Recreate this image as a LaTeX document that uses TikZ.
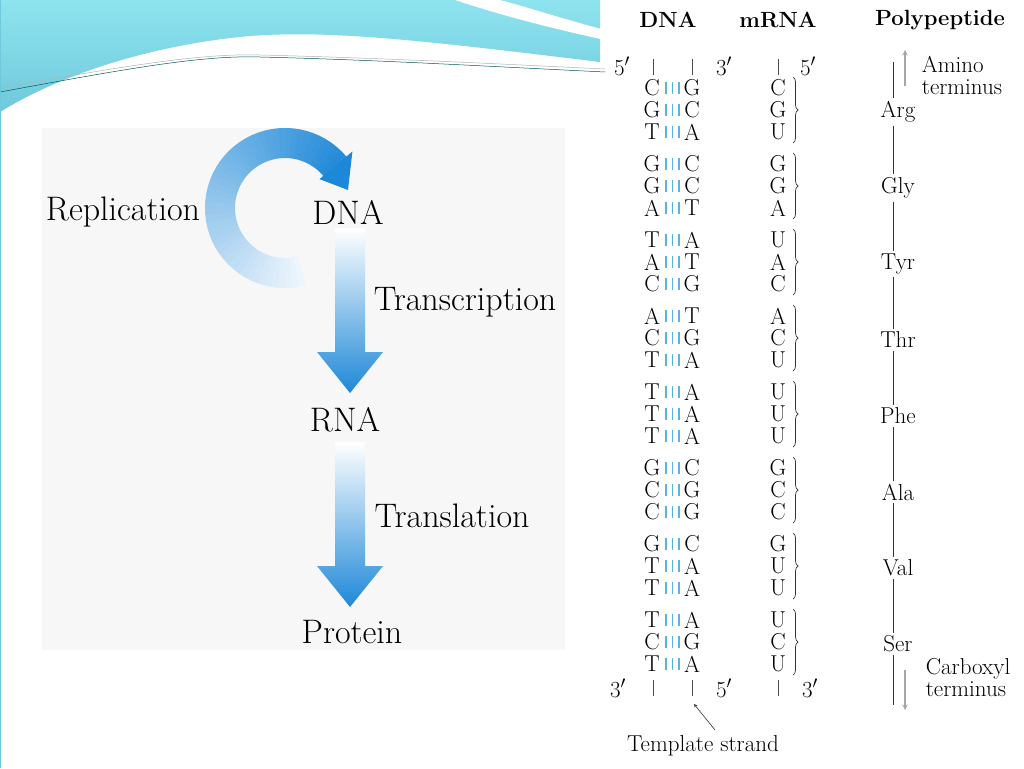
\documentclass[tikz,border=0pt]{standalone}
\usepackage{fontspec}
\setmainfont{Latin Modern Roman}
\usetikzlibrary{decorations.pathreplacing}
\definecolor{arrowblue}{HTML}{1E88D8}
\definecolor{bandcyan}{HTML}{8EE3EE}
\definecolor{bandcyan2}{HTML}{6FC9DC}
\definecolor{pairblue}{HTML}{5AB4E0}
\tikzset{
  big/.style={font=\fontsize{34}{36}\selectfont},
  sm/.style={font=\fontsize{23}{22}\selectfont, inner sep=0pt},
  hd/.style={font=\fontsize{22}{22}\selectfont\bfseries},
  tick/.style={draw=black!70, line width=0.8pt},
  bp/.style={draw=pairblue, line width=1.6pt},
  pl/.style={draw=black!80, line width=0.7pt},
}
\begin{document}
\begin{tikzpicture}[x=1pt,y=-1pt]
\useasboundingbox (0,0) rectangle (1024,768);
\fill[white] (0,0) rectangle (1024,768);
% top decoration
\shade[top color=bandcyan, bottom color=bandcyan2] (0,0) -- (600,0) -- (600,62) .. controls (420,40) and (330,30) .. (250,36) .. controls (150,45) and (60,75) .. (0,112) -- cycle;
\fill[white] (455,0) .. controls (500,15) and (550,28) .. (605,40) -- (605,30) .. controls (560,18) and (530,8) .. (500,0) -- cycle;
\draw[teal!70!black, line width=0.5pt] (0,92) .. controls (120,70) and (200,55) .. (260,57) .. controls (380,60) and (480,66) .. (605,72);
\draw[gray!60, line width=0.5pt] (0,88) .. controls (120,67) and (200,53) .. (260,55) .. controls (380,58) and (480,63) .. (605,69);
\draw[bandcyan2, line width=1pt] (0,0) -- (0,768);
% left panel
\fill[black!3] (42,128) rectangle (565,650);
% ring arrow
\foreach \i in {0,...,49}{
  \pgfmathsetmacro{\a}{285-\i*5}
  \pgfmathsetmacro{\b}{\a-5.5}
  \pgfmathsetmacro{\c}{8+\i*1.85}
  \fill[arrowblue!\c!white] ({285+50*cos(\a)},{208-50*sin(\a)}) arc[start angle=-\a, end angle=-\b, radius=50] -- ({285+80*cos(\b)},{208-80*sin(\b)}) arc[start angle=-\b, end angle=-\a, radius=80] -- cycle;
}
\fill[arrowblue] ({285+45*cos(40)},{208-45*sin(40)}) -- ({285+88*cos(40)},{208-88*sin(40)}) -- (348,190) -- cycle;
% vertical arrows
\shade[top color=white, bottom color=arrowblue] (335,228) -- (365,228) -- (365,352) -- (383,352) -- (350,393) -- (317,352) -- (335,352) -- cycle;
\shade[top color=white, bottom color=arrowblue] (335,442) -- (365,442) -- (365,566) -- (383,566) -- (350,607) -- (317,566) -- (335,566) -- cycle;
\node[big] (dna) at (348,212) {DNA};
\node[big] (rep) at (123,212) {Replication};
\node[big] (tsc) at (465,302) {Transcription};
\node[big] (rna) at (345,420) {RNA};
\node[big] (tsl) at (452,516) {Translation};
\node[big] (pro) at (352,632) {Protein};
% right panel
\node[hd] (h1) at (668,20) {DNA};
\node[hd] (h2) at (778,20) {mRNA};
\node[hd] (h3) at (940,20) {Polypeptide};
\node[sm] (p5a) at (622,66) {5$'$};
\node[sm] (p3a) at (724,66) {3$'$};
\node[sm] (p5b) at (808,66) {5$'$};
\draw[tick] (653,59) -- (653,75); \draw[tick] (692,59) -- (692,75); \draw[tick] (778,59) -- (778,75);
\node[sm] (q3a) at (618,688) {3$'$};
\node[sm] (q5a) at (724,688) {5$'$};
\node[sm] (q3b) at (810,688) {3$'$};
\draw[tick] (653,680) -- (653,696); \draw[tick] (692,680) -- (692,696); \draw[tick] (778,680) -- (778,696);
\node[sm] (tmpl) at (703,746) {Template strand};
\coordinate (tmplend) at (694,704);
\draw[black!80, line width=0.6pt, -stealth] (715,730) -- (tmplend);
\foreach \g/\aa/\r in {0/Arg/{C/G/C,G/C/G,T/A/U},1/Gly/{G/C/G,G/C/G,A/T/A},2/Tyr/{T/A/U,A/T/A,C/G/C},3/Thr/{A/T/A,C/G/C,T/A/U},4/Phe/{T/A/U,T/A/U,T/A/U},5/Ala/{G/C/G,C/G/C,C/G/C},6/Val/{G/C/G,T/A/U,T/A/U},7/Ser/{T/A/U,C/G/C,T/A/U}}{
  \foreach \l/\rr/\m [count=\k from 0] in \r {
    \pgfmathsetmacro{\y}{88+76*\g+22*\k}
    \node[sm] at (652,\y) {\l};
    \node[sm] at (692,\y) {\rr};
    \node[sm] at (778,\y) {\m};
    \draw[bp] (666,\y-6) -- (666,\y+6); \draw[bp] (672.5,\y-6) -- (672.5,\y+6); \draw[bp] (679,\y-6) -- (679,\y+6);
  }
  \pgfmathsetmacro{\yt}{77+76*\g}
  \pgfmathsetmacro{\yb}{143+76*\g}
  \draw[pl, decorate, decoration={brace, amplitude=5pt}] (793,\yt) -- (793,\yb);
  \pgfmathsetmacro{\ym}{112+76*\g}
  \node[sm, fill=white, inner ysep=3pt] (aa\g) at (898,\ym) {\aa};
}
\draw[pl] (893,62) -- (893,0 |- aa0.north);
\foreach \i [evaluate=\i as \j using int(\i+1)] in {0,...,6}{ \draw[pl] (893,0 |- aa\i.south) -- (893,0 |- aa\j.north); }
\draw[pl] (893,0 |- aa7.south) -- (893,705);
\draw[gray!70, line width=1.4pt, -stealth] (905,86) -- (905,50);
\node[sm, align=left] (amino) at (962,75) {Amino\\terminus};
\draw[gray!70, line width=1.4pt, -stealth] (905,670) -- (905,710);
\node[sm, align=left] (carb) at (968,678) {Carboxyl\\terminus};
\end{tikzpicture}
\end{document}
